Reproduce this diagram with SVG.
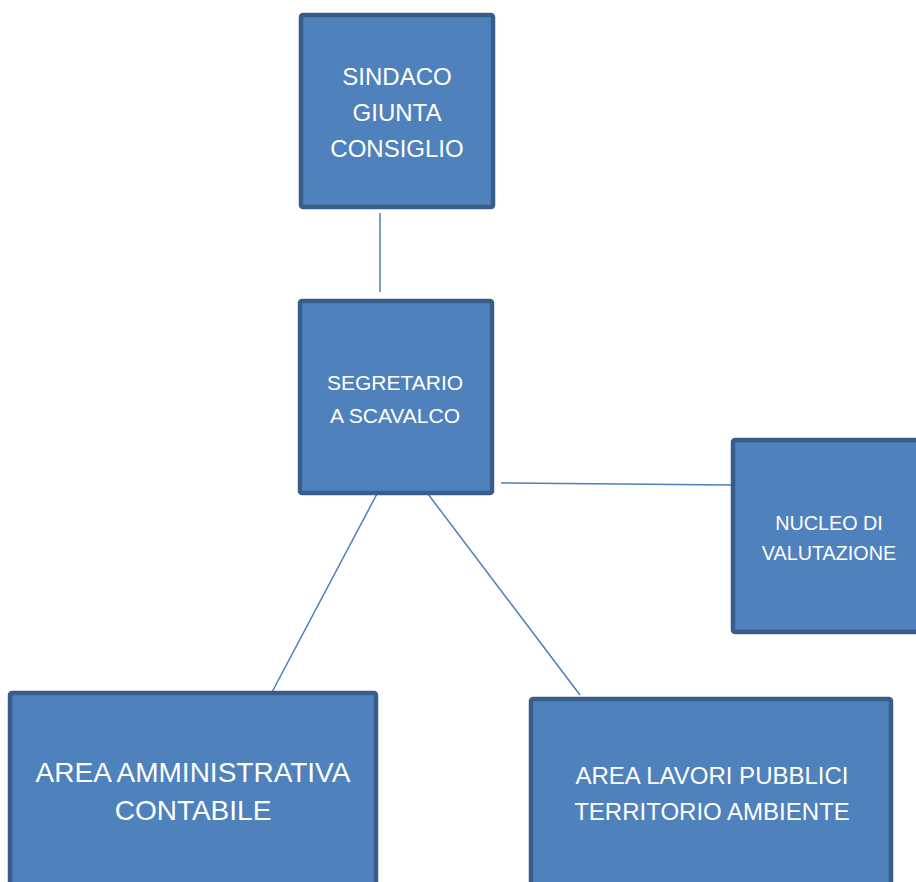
<svg xmlns="http://www.w3.org/2000/svg" width="916" height="882" viewBox="0 0 916 882">
<style>
.box{fill:#4f81bd;stroke:#385d8a;stroke-width:4.5}
.lbl{fill:#ffffff;font-family:"Liberation Sans",Arial,sans-serif;text-anchor:middle}
.con{stroke:#4a7ebb;stroke-width:1.5;fill:none}
</style>
<rect width="916" height="882" fill="#ffffff"/>
<g id="connectors">
<line class="con" x1="380" y1="213" x2="380" y2="292"/>
<line class="con" x1="501" y1="483" x2="731" y2="485"/>
<line class="con" x1="378" y1="492" x2="271" y2="694"/>
<line class="con" x1="428" y1="494" x2="580" y2="695"/>
</g>
<g id="sindaco">
<rect class="box" x="301" y="15" width="192" height="192" rx="2"/>
<text class="lbl" font-size="24"><tspan x="397" y="85">SINDACO</tspan><tspan x="397" y="121">GIUNTA</tspan><tspan x="397" y="157">CONSIGLIO</tspan></text>
</g>
<g id="segretario">
<rect class="box" x="300" y="301" width="192" height="192" rx="2"/>
<text class="lbl" font-size="21"><tspan x="395" y="390">SEGRETARIO</tspan><tspan x="395" y="423">A SCAVALCO</tspan></text>
</g>
<g id="nucleo">
<rect class="box" x="733" y="440" width="192" height="192" rx="2"/>
<text class="lbl" font-size="19.8"><tspan x="829" y="530">NUCLEO DI</tspan><tspan x="829" y="560">VALUTAZIONE</tspan></text>
</g>
<g id="area-amm">
<rect class="box" x="10" y="693" width="366" height="200" rx="2"/>
<text class="lbl" font-size="28"><tspan x="193" y="782">AREA AMMINISTRATIVA</tspan><tspan x="193" y="820">CONTABILE</tspan></text>
</g>
<g id="area-lav">
<rect class="box" x="531" y="699" width="360" height="200" rx="2"/>
<text class="lbl" font-size="24"><tspan x="712" y="784">AREA LAVORI PUBBLICI</tspan><tspan x="712" y="820">TERRITORIO AMBIENTE</tspan></text>
</g>
</svg>
